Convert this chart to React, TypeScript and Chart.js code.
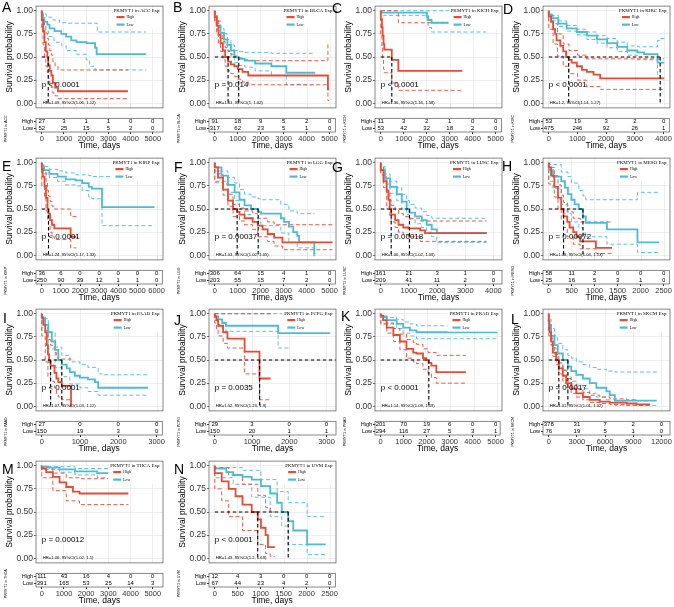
import React, { useEffect, useRef } from "react";
import { Chart, registerables } from "chart.js";
Chart.register(...registerables);

type Pt = [number, number];

const RED = "#E64B35";
const BLUE = "#4DBBD5";
const GRID = "#E6E6E6";
const SANS = "'Liberation Sans', Arial, sans-serif";
const SERIF = "'Liberation Serif', 'Times New Roman', serif";
const Y_TICKS = [0, 0.25, 0.5, 0.75, 1];
const GROUPS = ["High", "Low"];

// ---------------- A: ACC ----------------
const ACC_TICKS = [0, 1000, 2000, 3000, 4000, 5000];
const ACC_HIGH: Pt[] = [[0,1],[60,0.9],[120,0.78],[180,0.66],[250,0.56],[290,0.5],[360,0.41],[430,0.35],[500,0.3],[600,0.22],[730,0.17],[950,0.13],[3880,0.13]];
const ACC_HIGH_UP: Pt[] = [[0,1],[60,0.98],[120,0.92],[180,0.84],[250,0.76],[300,0.7],[360,0.63],[430,0.57],[500,0.52],[600,0.45],[730,0.4],[950,0.36],[3880,0.36]];
const ACC_HIGH_LO: Pt[] = [[0,1],[60,0.8],[120,0.63],[180,0.5],[250,0.4],[300,0.33],[360,0.27],[430,0.21],[500,0.17],[600,0.11],[730,0.08],[950,0.05],[3880,0.05]];
const ACC_LOW: Pt[] = [[0,1],[60,0.96],[120,0.92],[250,0.88],[350,0.85],[575,0.81],[880,0.78],[1100,0.75],[1330,0.72],[1560,0.68],[2015,0.66],[2400,0.65],[2470,0.6],[2545,0.53],[4700,0.53]];
const ACC_LOW_UP: Pt[] = [[0,1],[200,0.97],[500,0.93],[800,0.9],[1100,0.87],[2500,0.865],[2545,0.77],[4700,0.77]];
const ACC_LOW_LO: Pt[] = [[0,1],[100,0.85],[300,0.78],[550,0.72],[900,0.66],[1100,0.62],[1550,0.57],[2000,0.53],[2150,0.47],[2400,0.4],[2545,0.36],[4700,0.36]];
const ACC_RISK_HIGH = [27, 3, 1, 1, 0, 0];
const ACC_RISK_LOW = [52, 25, 15, 5, 2, 0];

// ---------------- B: BLCA ----------------
const BLCA_TICKS = [0, 1000, 2000, 3000, 4000, 5000];
const BLCA_HIGH: Pt[] = [[0,1],[80,0.93],[160,0.84],[250,0.74],[350,0.65],[450,0.57],[576,0.5],[700,0.45],[850,0.42],[1000,0.4],[1200,0.37],[1450,0.34],[1700,0.3],[4900,0.3],[4950,0.15]];
const BLCA_HIGH_UP: Pt[] = [[0,1],[80,0.97],[160,0.91],[250,0.82],[350,0.74],[450,0.67],[576,0.6],[700,0.56],[850,0.53],[1000,0.51],[1200,0.49],[1450,0.47],[1700,0.46],[4900,0.46],[4950,0.64]];
const BLCA_HIGH_LO: Pt[] = [[0,1],[80,0.88],[160,0.76],[250,0.65],[350,0.56],[450,0.47],[576,0.4],[700,0.35],[850,0.32],[1000,0.29],[1200,0.26],[1450,0.23],[1700,0.2],[4900,0.2],[4950,0.03]];
const BLCA_LOW: Pt[] = [[0,1],[100,0.94],[250,0.84],[400,0.76],[550,0.69],[700,0.63],[850,0.57],[1037,0.5],[1300,0.48],[1750,0.46],[2450,0.43],[2500,0.4],[3100,0.4],[3120,0.33],[4350,0.33]];
const BLCA_LOW_UP: Pt[] = [[0,1],[100,0.97],[250,0.89],[400,0.81],[550,0.75],[700,0.69],[850,0.63],[1037,0.57],[1300,0.56],[1750,0.55],[2450,0.55],[3100,0.54],[4350,0.54]];
const BLCA_LOW_LO: Pt[] = [[0,1],[100,0.9],[250,0.79],[400,0.7],[550,0.63],[700,0.57],[850,0.51],[1037,0.44],[1300,0.41],[1750,0.39],[2450,0.35],[2500,0.31],[3100,0.3],[3120,0.2],[4350,0.2]];
const BLCA_RISK_HIGH = [91, 18, 9, 5, 2, 0];
const BLCA_RISK_LOW = [317, 62, 23, 5, 1, 0];

// ---------------- C: KICH ----------------
const KICH_TICKS = [0, 1000, 2000, 3000, 4000, 5000];
const KICH_HIGH: Pt[] = [[0,1],[50,0.91],[80,0.82],[120,0.73],[150,0.64],[200,0.58],[475,0.58],[480,0.47],[760,0.47],[770,0.35],[3530,0.35]];
const KICH_HIGH_UP: Pt[] = [[0,1],[760,1],[770,0.87],[3530,0.87]];
const KICH_HIGH_LO: Pt[] = [[0,1],[50,0.75],[80,0.6],[120,0.47],[150,0.37],[200,0.33],[475,0.33],[480,0.22],[760,0.22],[770,0.14],[3530,0.14]];
const KICH_LOW: Pt[] = [[0,1],[100,0.98],[2000,0.98],[2050,0.94],[2200,0.9],[2340,0.87],[4570,0.87]];
const KICH_LOW_UP: Pt[] = [[0,1],[4570,1]];
const KICH_LOW_LO: Pt[] = [[0,1],[100,0.95],[2000,0.95],[2050,0.88],[2200,0.82],[2340,0.77],[4570,0.77]];
const KICH_RISK_HIGH = [11, 3, 2, 1, 0, 0];
const KICH_RISK_LOW = [53, 42, 32, 18, 2, 0];

// ---------------- D: KIRC ----------------
const KIRC_TICKS = [0, 1000, 2000, 3000, 4000];
const KIRC_HIGH: Pt[] = [[0,1],[80,0.94],[150,0.88],[220,0.8],[270,0.75],[400,0.68],[500,0.62],[600,0.56],[690,0.5],[790,0.47],[970,0.44],[1150,0.4],[1320,0.36],[1550,0.34],[1780,0.31],[1900,0.27],[4000,0.27]];
const KIRC_HIGH_UP: Pt[] = [[0,1],[150,0.95],[300,0.86],[500,0.75],[700,0.64],[1000,0.57],[1300,0.52],[1800,0.48],[4000,0.48]];
const KIRC_HIGH_LO: Pt[] = [[0,1],[150,0.8],[300,0.64],[500,0.51],[700,0.4],[1000,0.32],[1300,0.25],[1800,0.18],[1900,0.15],[4000,0.15]];
const KIRC_LOW: Pt[] = [[0,1],[100,0.96],[330,0.92],[620,0.86],[970,0.81],[1320,0.77],[1670,0.73],[2020,0.69],[2370,0.65],[2720,0.61],[3070,0.57],[3300,0.55],[3770,0.53],[3860,0.44],[4000,0.44]];
const KIRC_LOW_UP: Pt[] = [[0,1],[330,0.95],[620,0.89],[970,0.84],[1320,0.8],[1670,0.77],[2020,0.73],[2370,0.7],[2720,0.66],[3070,0.62],[3770,0.61],[3860,0.68],[4000,0.7]];
const KIRC_LOW_LO: Pt[] = [[0,1],[330,0.89],[620,0.83],[970,0.78],[1320,0.74],[1670,0.69],[2020,0.65],[2370,0.6],[2720,0.56],[3070,0.52],[3770,0.47],[3860,0.3],[4000,0.28]];
const KIRC_RISK_HIGH = [53, 19, 3, 2, 0];
const KIRC_RISK_LOW = [475, 246, 92, 26, 1];

// ---------------- E: KIRP ----------------
const KIRP_TICKS = [0, 1000, 2000, 3000, 4000, 5000, 6000];
const KIRP_HIGH: Pt[] = [[0,1],[50,0.93],[140,0.85],[220,0.75],[300,0.62],[350,0.5],[430,0.45],[530,0.38],[650,0.33],[770,0.29],[1500,0.29],[1520,0.2],[1800,0.2]];
const KIRP_HIGH_UP: Pt[] = [[0,1],[140,0.97],[220,0.9],[300,0.8],[350,0.7],[430,0.64],[530,0.58],[650,0.53],[770,0.5],[1500,0.5],[1520,0.42],[1800,0.42]];
const KIRP_HIGH_LO: Pt[] = [[0,1],[140,0.75],[220,0.62],[300,0.48],[350,0.37],[430,0.32],[530,0.25],[650,0.2],[770,0.17],[1500,0.17],[1520,0.08],[1800,0.08]];
const KIRP_LOW: Pt[] = [[0,1],[100,0.97],[390,0.92],[820,0.88],[1250,0.85],[1760,0.82],[2100,0.81],[2440,0.78],[2600,0.74],[3130,0.72],[3210,0.52],[5860,0.52]];
const KIRP_LOW_UP: Pt[] = [[0,1],[390,0.96],[820,0.93],[1250,0.91],[1760,0.89],[2440,0.87],[2600,0.86],[5860,0.85]];
const KIRP_LOW_LO: Pt[] = [[0,1],[390,0.88],[820,0.84],[1250,0.8],[1760,0.76],[2100,0.75],[2440,0.7],[2600,0.63],[3130,0.61],[3210,0.32],[5860,0.32]];
const KIRP_RISK_HIGH = [36, 6, 0, 0, 0, 0, 0];
const KIRP_RISK_LOW = [250, 90, 39, 12, 1, 1, 0];

// ---------------- F: LGG ----------------
const LGG_TICKS = [0, 1000, 2000, 3000, 4000, 5000];
const LGG_HIGH: Pt[] = [[0,1],[140,0.95],[360,0.84],[570,0.71],[790,0.59],[970,0.5],[1070,0.47],[1290,0.44],[1640,0.4],[1860,0.36],[2070,0.32],[2290,0.28],[2570,0.23],[2930,0.19],[3000,0.14],[5100,0.14]];
const LGG_HIGH_UP: Pt[] = [[0,1],[360,0.88],[570,0.77],[790,0.66],[1070,0.55],[1290,0.51],[1640,0.48],[1860,0.45],[2290,0.4],[2570,0.36],[2930,0.33],[5100,0.33]];
const LGG_HIGH_LO: Pt[] = [[0,1],[360,0.79],[570,0.65],[790,0.53],[1070,0.42],[1290,0.37],[1640,0.33],[1860,0.28],[2290,0.2],[2570,0.15],[2930,0.1],[3000,0.06],[5100,0.06]];
const LGG_LOW: Pt[] = [[0,1],[290,0.95],[570,0.86],[860,0.76],[1070,0.68],[1290,0.6],[1570,0.54],[1880,0.5],[2000,0.47],[2860,0.45],[3000,0.4],[3210,0.36],[3400,0.31],[3570,0.25],[3650,0.21],[4000,0.14],[4310,0.14],[4320,0]];
const LGG_LOW_UP: Pt[] = [[0,1],[570,0.91],[860,0.84],[1070,0.78],[1290,0.71],[1570,0.66],[1880,0.63],[2000,0.61],[2860,0.6],[3210,0.55],[3570,0.48],[4000,0.45],[4310,0.45]];
const LGG_LOW_LO: Pt[] = [[0,1],[570,0.8],[860,0.68],[1070,0.59],[1290,0.5],[1570,0.44],[1880,0.4],[2000,0.36],[2860,0.32],[3210,0.24],[3570,0.14],[4000,0.08],[4310,0.08],[4320,0]];
const LGG_RISK_HIGH = [306, 64, 15, 4, 1, 0];
const LGG_RISK_LOW = [203, 55, 15, 7, 2, 0];

// ---------------- G: LUSC ----------------
const LUSC_TICKS = [0, 1000, 2000, 3000, 4000];
const LUSC_HIGH: Pt[] = [[0,1],[95,0.92],[210,0.8],[270,0.7],[320,0.6],[370,0.5],[510,0.44],[630,0.38],[800,0.33],[980,0.3],[1400,0.29],[1570,0.27],[1750,0.24],[3760,0.24]];
const LUSC_HIGH_UP: Pt[] = [[0,1],[95,0.96],[210,0.86],[320,0.68],[370,0.6],[510,0.54],[630,0.49],[800,0.45],[980,0.42],[1400,0.4],[1750,0.37],[3760,0.37]];
const LUSC_HIGH_LO: Pt[] = [[0,1],[95,0.87],[210,0.73],[320,0.52],[370,0.43],[510,0.36],[630,0.3],[800,0.25],[980,0.22],[1400,0.2],[1750,0.15],[3760,0.15]];
const LUSC_LOW: Pt[] = [[0,1],[150,0.92],[330,0.83],[570,0.74],[745,0.66],[920,0.58],[1020,0.5],[1220,0.46],[1455,0.42],[1630,0.38],[1810,0.33],[1990,0.28],[2170,0.24],[3760,0.24]];
const LUSC_LOW_UP: Pt[] = [[0,1],[150,0.96],[330,0.88],[570,0.8],[745,0.73],[920,0.66],[1020,0.59],[1220,0.55],[1455,0.51],[1630,0.47],[1810,0.43],[1990,0.4],[3760,0.4]];
const LUSC_LOW_LO: Pt[] = [[0,1],[150,0.88],[330,0.77],[570,0.67],[745,0.59],[920,0.5],[1020,0.44],[1220,0.39],[1455,0.34],[1630,0.3],[1810,0.25],[1990,0.2],[2170,0.14],[3760,0.14]];
const LUSC_RISK_HIGH = [161, 21, 3, 1, 0];
const LUSC_RISK_LOW = [209, 41, 11, 2, 0];

// ---------------- H: MESO ----------------
const MESO_TICKS = [0, 500, 1000, 1500, 2000, 2500];
const MESO_HIGH: Pt[] = [[0,1],[50,0.95],[120,0.86],[200,0.74],[270,0.62],[320,0.5],[400,0.42],[450,0.36],[530,0.3],[600,0.25],[680,0.2],[745,0.15],[1020,0.15],[1030,0.08],[1370,0.08]];
const MESO_HIGH_UP: Pt[] = [[0,1],[120,0.95],[200,0.86],[270,0.76],[320,0.65],[400,0.57],[530,0.47],[680,0.4],[745,0.36],[1370,0.36]];
const MESO_HIGH_LO: Pt[] = [[0,1],[120,0.77],[200,0.63],[270,0.5],[320,0.38],[400,0.3],[530,0.2],[680,0.12],[745,0.07],[1020,0.07],[1030,0.02],[1370,0.02]];
const MESO_LOW: Pt[] = [[0,1],[90,0.92],[270,0.85],[350,0.8],[415,0.73],[490,0.66],[560,0.6],[650,0.55],[740,0.5],[800,0.42],[855,0.35],[1260,0.35],[1270,0.28],[1920,0.28],[1930,0.14],[2390,0.14]];
const MESO_LOW_UP: Pt[] = [[0,1],[270,0.98],[415,0.9],[490,0.85],[650,0.78],[740,0.7],[800,0.64],[855,0.6],[1920,0.6],[1930,0.68],[2390,0.68]];
const MESO_LOW_LO: Pt[] = [[0,1],[90,0.8],[270,0.72],[415,0.55],[490,0.45],[650,0.36],[740,0.3],[800,0.24],[855,0.2],[1260,0.2],[1270,0.12],[1920,0.12],[1930,0.03],[2390,0.03]];
const MESO_RISK_HIGH = [58, 11, 2, 0, 0, 0];
const MESO_RISK_LOW = [25, 16, 5, 3, 1, 0];

// ---------------- I: PAAD ----------------
const PAAD_TICKS = [0, 1000, 2000, 3000];
const PAAD_HIGH: Pt[] = [[0,1],[40,0.96],[90,0.88],[130,0.8],[160,0.66],[190,0.56],[230,0.48],[330,0.44],[380,0.36],[430,0.3],[520,0.26],[600,0.22],[760,0.22],[770,0]];
const PAAD_HIGH_UP: Pt[] = [[0,1],[90,0.97],[160,0.85],[230,0.72],[330,0.66],[380,0.58],[430,0.53],[520,0.51],[770,0.51]];
const PAAD_HIGH_LO: Pt[] = [[0,1],[90,0.76],[160,0.48],[230,0.32],[330,0.27],[380,0.2],[430,0.14],[520,0.1],[600,0.07],[770,0.07]];
const PAAD_LOW: Pt[] = [[0,1],[86,0.95],[170,0.88],[260,0.8],[350,0.7],[430,0.61],[520,0.5],[650,0.45],[730,0.41],[860,0.37],[990,0.33],[1200,0.31],[1380,0.29],[1465,0.26],[1620,0.2],[2760,0.2]];
const PAAD_LOW_UP: Pt[] = [[0,1],[170,0.95],[350,0.8],[520,0.64],[730,0.55],[990,0.48],[1200,0.45],[1465,0.42],[1620,0.35],[2760,0.34]];
const PAAD_LOW_LO: Pt[] = [[0,1],[170,0.82],[350,0.62],[520,0.42],[730,0.32],[990,0.24],[1200,0.2],[1465,0.16],[1620,0.12],[2760,0.12]];
const PAAD_RISK_HIGH = [27, 0, 0, 0];
const PAAD_RISK_LOW = [150, 19, 3, 0];

// ---------------- J: PCPG ----------------
const PCPG_TICKS = [0, 1000, 2000, 3000];
const PCPG_HIGH: Pt[] = [[0,1],[45,0.97],[90,0.93],[225,0.87],[340,0.8],[360,0.73],[800,0.73],[810,0.59],[1200,0.59],[1210,0.3],[1500,0.3]];
const PCPG_HIGH_UP: Pt[] = [[0,1],[1500,1]];
const PCPG_HIGH_LO: Pt[] = [[0,1],[45,0.9],[90,0.83],[225,0.76],[340,0.68],[360,0.63],[800,0.63],[810,0.35],[1200,0.35],[1210,0.07],[1500,0.07]];
const PCPG_LOW: Pt[] = [[0,1],[90,0.97],[200,0.94],[300,0.9],[400,0.87],[1700,0.87],[1710,0.79],[3100,0.79]];
const PCPG_LOW_UP: Pt[] = [[0,1],[3100,1]];
const PCPG_LOW_LO: Pt[] = [[0,1],[90,0.93],[200,0.88],[300,0.84],[400,0.81],[1700,0.81],[1710,0.63],[2000,0.63]];
const PCPG_RISK_HIGH = [29, 3, 0, 0];
const PCPG_RISK_LOW = [150, 20, 1, 1];

// ---------------- K: PRAD ----------------
const PRAD_TICKS = [0, 1000, 2000, 3000, 4000, 5000];
const PRAD_HIGH: Pt[] = [[0,1],[100,0.98],[255,0.93],[540,0.85],[820,0.77],[1100,0.7],[1390,0.62],[1530,0.58],[1810,0.57],[1950,0.52],[2060,0.5],[2170,0.47],[2380,0.44],[2520,0.37],[3650,0.37]];
const PRAD_HIGH_UP: Pt[] = [[0,1],[255,0.96],[540,0.9],[820,0.84],[1100,0.78],[1390,0.72],[1530,0.69],[1810,0.67],[2030,0.62],[2380,0.58],[2520,0.55],[3650,0.55]];
const PRAD_HIGH_LO: Pt[] = [[0,1],[255,0.89],[540,0.79],[820,0.7],[1100,0.61],[1390,0.52],[1530,0.48],[1810,0.46],[2030,0.4],[2170,0.36],[2380,0.31],[2520,0.25],[3650,0.25]];
const PRAD_LOW: Pt[] = [[0,1],[255,0.97],[680,0.93],[960,0.89],[1250,0.85],[1530,0.82],[1670,0.8],[5000,0.8]];
const PRAD_LOW_UP: Pt[] = [[0,1],[680,0.96],[960,0.94],[1250,0.91],[1530,0.89],[1670,0.87],[5000,0.87]];
const PRAD_LOW_LO: Pt[] = [[0,1],[680,0.89],[960,0.84],[1250,0.79],[1530,0.76],[1670,0.73],[5000,0.73]];
const PRAD_RISK_HIGH = [201, 70, 19, 6, 0, 0];
const PRAD_RISK_LOW = [294, 116, 27, 5, 3, 1];

// ---------------- L: SKCM ----------------
const SKCM_TICKS = [0, 3000, 6000, 9000, 12000];
const SKCM_HIGH: Pt[] = [[0,1],[70,0.92],[250,0.8],[430,0.7],[790,0.58],[1070,0.5],[1500,0.41],[1860,0.33],[2390,0.25],[2930,0.19],[3640,0.14],[4360,0.1],[5430,0.07],[6500,0.05],[8290,0.04],[9360,0.03],[10800,0.02]];
const SKCM_HIGH_UP: Pt[] = [[0,1],[250,0.84],[430,0.74],[790,0.63],[1070,0.56],[1500,0.47],[1860,0.39],[2390,0.3],[2930,0.24],[3640,0.19],[4360,0.15],[5430,0.12],[6500,0.1],[8290,0.08],[9360,0.07],[10800,0.06]];
const SKCM_HIGH_LO: Pt[] = [[0,1],[250,0.76],[430,0.66],[790,0.54],[1070,0.45],[1500,0.35],[1860,0.27],[2390,0.2],[2930,0.14],[3640,0.1],[4360,0.07],[5430,0.04],[6500,0.03],[8290,0.02],[9360,0.01],[10800,0.01]];
const SKCM_LOW: Pt[] = [[0,1],[250,0.88],[610,0.76],[960,0.66],[1500,0.57],[2036,0.5],[2390,0.43],[2930,0.38],[3640,0.34],[4360,0.3],[5070,0.25],[6140,0.2],[6500,0.16],[7040,0.12],[7750,0.06],[11500,0.06]];
const SKCM_LOW_UP: Pt[] = [[0,1],[250,0.94],[610,0.84],[960,0.76],[1500,0.68],[2036,0.61],[2390,0.55],[2930,0.52],[3640,0.48],[4360,0.45],[5070,0.42],[6140,0.4],[7040,0.38],[7750,0.37],[11500,0.37]];
const SKCM_LOW_LO: Pt[] = [[0,1],[250,0.8],[610,0.66],[960,0.56],[1500,0.46],[2036,0.39],[2390,0.32],[2930,0.27],[3640,0.23],[4360,0.19],[5070,0.14],[6140,0.1],[6500,0.07],[7040,0.04],[7750,0.01],[11500,0.01]];
const SKCM_RISK_HIGH = [378, 31, 7, 2, 0];
const SKCM_RISK_LOW = [76, 19, 5, 1, 0];

// ---------------- M: THCA ----------------
const THCA_TICKS = [0, 1000, 2000, 3000, 4000, 5000];
const THCA_HIGH: Pt[] = [[0,1],[200,0.97],[500,0.93],[800,0.88],[1100,0.82],[1400,0.77],[1700,0.72],[2000,0.7],[3900,0.7]];
const THCA_HIGH_UP: Pt[] = [[0,1],[500,0.98],[1100,0.92],[1700,0.87],[2000,0.86],[3900,0.86]];
const THCA_HIGH_LO: Pt[] = [[0,1],[500,0.87],[1100,0.73],[1700,0.62],[2000,0.58],[3900,0.58]];
const THCA_LOW: Pt[] = [[0,1],[300,0.99],[800,0.98],[1500,0.96],[2500,0.94],[3500,0.92],[4500,0.9],[5000,0.9]];
const THCA_LOW_UP: Pt[] = [[0,1],[1500,0.99],[3500,0.97],[5000,0.96]];
const THCA_LOW_LO: Pt[] = [[0,1],[800,0.96],[1500,0.93],[2500,0.9],[3500,0.87],[5000,0.84]];
const THCA_RISK_HIGH = [111, 43, 16, 4, 0, 0];
const THCA_RISK_LOW = [391, 165, 53, 25, 14, 3];

// ---------------- N: UVM ----------------
const UVM_TICKS = [0, 500, 1000, 1500, 2000, 2500];
const UVM_HIGH: Pt[] = [[0,1],[150,0.92],[300,0.83],[450,0.75],[600,0.67],[800,0.58],[930,0.5],[1000,0.42],[1100,0.33],[1150,0.25],[1200,0.12],[1300,0.12]];
const UVM_HIGH_UP: Pt[] = [[0,1],[300,0.98],[600,0.9],[930,0.8],[1100,0.68],[1200,0.55],[1300,0.5]];
const UVM_HIGH_LO: Pt[] = [[0,1],[150,0.75],[300,0.62],[600,0.45],[930,0.3],[1100,0.15],[1200,0.05],[1300,0.02]];
const UVM_LOW: Pt[] = [[0,1],[250,0.97],[400,0.93],[600,0.9],[800,0.88],[1000,0.85],[1200,0.78],[1350,0.7],[1450,0.6],[1590,0.5],[1700,0.4],[2000,0.3],[2200,0.15],[2400,0.15]];
const UVM_LOW_UP: Pt[] = [[0,1],[600,0.98],[1000,0.95],[1350,0.85],[1590,0.72],[2000,0.6],[2200,0.45],[2400,0.45]];
const UVM_LOW_LO: Pt[] = [[0,1],[400,0.87],[800,0.8],[1200,0.66],[1450,0.45],[1590,0.35],[2000,0.15],[2200,0.04],[2400,0.04]];
const UVM_RISK_HIGH = [12, 4, 3, 0, 0, 0];
const UVM_RISK_LOW = [67, 44, 23, 4, 2, 0];

// ---------------- layout ----------------
const COL_LEFT = [36, 209, 375, 543];
const ROW_TOP = [0, 152, 303, 455];
const PLOT_W = 127;
const Y_AREA = 34;
const KM_H = 114;
const TB_H = 38;
const CW = Y_AREA + PLOT_W + 2;

interface PanelSpec {
  letter: string; code: string; col: number; row: number; lx: number; ly: number;
  xMax: number; ticks: number[];
  high: Pt[]; highUp: Pt[]; highLo: Pt[]; low: Pt[]; lowUp: Pt[]; lowLo: Pt[];
  riskHigh: number[]; riskLow: number[];
  medians: number[]; hEnd?: number; pText: string; hrText: string;
}

const PANELS: PanelSpec[] = [
  { letter: "A", code: "ACC", col: 0, row: 0, lx: 2, ly: 0, xMax: 5200, ticks: ACC_TICKS, high: ACC_HIGH, highUp: ACC_HIGH_UP, highLo: ACC_HIGH_LO, low: ACC_LOW, lowUp: ACC_LOW_UP, lowLo: ACC_LOW_LO, riskHigh: ACC_RISK_HIGH, riskLow: ACC_RISK_LOW, medians: [290], pText: "p < 0.0001", hrText: "HR=1.09, 95%CI(1.06, 1.12)" },
  { letter: "B", code: "BLCA", col: 1, row: 0, lx: 173, ly: 0, xMax: 5000, ticks: BLCA_TICKS, high: BLCA_HIGH, highUp: BLCA_HIGH_UP, highLo: BLCA_HIGH_LO, low: BLCA_LOW, lowUp: BLCA_LOW_UP, lowLo: BLCA_LOW_LO, riskHigh: BLCA_RISK_HIGH, riskLow: BLCA_RISK_LOW, medians: [576, 1037], pText: "p = 0.014", hrText: "HR=1.01, 95%CI(1, 1.02)" },
  { letter: "C", code: "KICH", col: 2, row: 0, lx: 332, ly: 1, xMax: 5000, ticks: KICH_TICKS, high: KICH_HIGH, highUp: KICH_HIGH_UP, highLo: KICH_HIGH_LO, low: KICH_LOW, lowUp: KICH_LOW_UP, lowLo: KICH_LOW_LO, riskHigh: KICH_RISK_HIGH, riskLow: KICH_RISK_LOW, medians: [478], pText: "p < 0.0001", hrText: "HR=1.36, 95%CI(1.16, 1.58)" },
  { letter: "D", code: "KIRC", col: 3, row: 0, lx: 503, ly: 2, xMax: 4000, ticks: KIRC_TICKS, high: KIRC_HIGH, highUp: KIRC_HIGH_UP, highLo: KIRC_HIGH_LO, low: KIRC_LOW, lowUp: KIRC_LOW_UP, lowLo: KIRC_LOW_LO, riskHigh: KIRC_RISK_HIGH, riskLow: KIRC_RISK_LOW, medians: [690, 3860], pText: "p < 0.0001", hrText: "HR=1.2, 95%CI(1.14, 1.27)" },
  { letter: "E", code: "KIRP", col: 0, row: 1, lx: 2, ly: 159, xMax: 6000, ticks: KIRP_TICKS, high: KIRP_HIGH, highUp: KIRP_HIGH_UP, highLo: KIRP_HIGH_LO, low: KIRP_LOW, lowUp: KIRP_LOW_UP, lowLo: KIRP_LOW_LO, riskHigh: KIRP_RISK_HIGH, riskLow: KIRP_RISK_LOW, medians: [350], pText: "p < 0.0001", hrText: "HR=1.24, 95%CI(1.17, 1.33)" },
  { letter: "F", code: "LGG", col: 1, row: 1, lx: 174, ly: 160, xMax: 5000, ticks: LGG_TICKS, high: LGG_HIGH, highUp: LGG_HIGH_UP, highLo: LGG_HIGH_LO, low: LGG_LOW, lowUp: LGG_LOW_UP, lowLo: LGG_LOW_LO, riskHigh: LGG_RISK_HIGH, riskLow: LGG_RISK_LOW, medians: [970, 1880], pText: "p = 0.00037", hrText: "HR=1.03, 95%CI(1.02, 1.05)" },
  { letter: "G", code: "LUSC", col: 2, row: 1, lx: 332, ly: 160, xMax: 4100, ticks: LUSC_TICKS, high: LUSC_HIGH, highUp: LUSC_HIGH_UP, highLo: LUSC_HIGH_LO, low: LUSC_LOW, lowUp: LUSC_LOW_UP, lowLo: LUSC_LOW_LO, riskHigh: LUSC_RISK_HIGH, riskLow: LUSC_RISK_LOW, medians: [370, 1020], pText: "p = 0.00018", hrText: "HR=1.06, 95%CI(1.02, 1.09)" },
  { letter: "H", code: "MESO", col: 3, row: 1, lx: 502, ly: 159, xMax: 2500, ticks: MESO_TICKS, high: MESO_HIGH, highUp: MESO_HIGH_UP, highLo: MESO_HIGH_LO, low: MESO_LOW, lowUp: MESO_LOW_UP, lowLo: MESO_LOW_LO, riskHigh: MESO_RISK_HIGH, riskLow: MESO_RISK_LOW, medians: [320, 740], pText: "p = 0.00072", hrText: "HR=1.08, 95%CI(1.04, 1.13)" },
  { letter: "I", code: "PAAD", col: 0, row: 2, lx: 3, ly: 311, xMax: 3000, ticks: PAAD_TICKS, high: PAAD_HIGH, highUp: PAAD_HIGH_UP, highLo: PAAD_HIGH_LO, low: PAAD_LOW, lowUp: PAAD_LOW_UP, lowLo: PAAD_LOW_LO, riskHigh: PAAD_RISK_HIGH, riskLow: PAAD_RISK_LOW, medians: [230, 520], pText: "p < 0.0001", hrText: "HR=1.07, 95%CI(1.03, 1.12)" },
  { letter: "J", code: "PCPG", col: 1, row: 2, lx: 174, ly: 313, xMax: 3100, ticks: PCPG_TICKS, high: PCPG_HIGH, highUp: PCPG_HIGH_UP, highLo: PCPG_HIGH_LO, low: PCPG_LOW, lowUp: PCPG_LOW_UP, lowLo: PCPG_LOW_LO, riskHigh: PCPG_RISK_HIGH, riskLow: PCPG_RISK_LOW, medians: [1205], hEnd: 3300, pText: "p = 0.0035", hrText: "HR=1.52, 95%CI(1.23, 1.9)" },
  { letter: "K", code: "PRAD", col: 2, row: 2, lx: 341, ly: 309, xMax: 4950, ticks: PRAD_TICKS, high: PRAD_HIGH, highUp: PRAD_HIGH_UP, highLo: PRAD_HIGH_LO, low: PRAD_LOW, lowUp: PRAD_LOW_UP, lowLo: PRAD_LOW_LO, riskHigh: PRAD_RISK_HIGH, riskLow: PRAD_RISK_LOW, medians: [2060], pText: "p < 0.0001", hrText: "HR=1.14, 95%CI(1.09, 1.19)" },
  { letter: "L", code: "SKCM", col: 3, row: 2, lx: 511, ly: 312, xMax: 12300, ticks: SKCM_TICKS, high: SKCM_HIGH, highUp: SKCM_HIGH_UP, highLo: SKCM_HIGH_LO, low: SKCM_LOW, lowUp: SKCM_LOW_UP, lowLo: SKCM_LOW_LO, riskHigh: SKCM_RISK_HIGH, riskLow: SKCM_RISK_LOW, medians: [1070, 2036], pText: "p = 0.0017", hrText: "HR=1.01, 95%CI(1.01, 1.02)" },
  { letter: "M", code: "THCA", col: 0, row: 3, lx: 2, ly: 462, xMax: 5200, ticks: THCA_TICKS, high: THCA_HIGH, highUp: THCA_HIGH_UP, highLo: THCA_HIGH_LO, low: THCA_LOW, lowUp: THCA_LOW_UP, lowLo: THCA_LOW_LO, riskHigh: THCA_RISK_HIGH, riskLow: THCA_RISK_LOW, medians: [], pText: "p = 0.00012", hrText: "HR=1.06, 95%CI(1.02, 1.1)" },
  { letter: "N", code: "UVM", col: 1, row: 3, lx: 174, ly: 462, xMax: 2500, ticks: UVM_TICKS, high: UVM_HIGH, highUp: UVM_HIGH_UP, highLo: UVM_HIGH_LO, low: UVM_LOW, lowUp: UVM_LOW_UP, lowLo: UVM_LOW_LO, riskHigh: UVM_RISK_HIGH, riskLow: UVM_RISK_LOW, medians: [930, 1590], pText: "p < 0.0001", hrText: "HR=1.43, 95%CI(1.2, 1.69)" },
];

const toXY = (a: Pt[]) => a.map(([x, y]) => ({ x, y }));

function stepLine(data: Pt[], color: string, width: number, dash: number[] = []) {
  return { data: toXY(data), borderColor: color, borderWidth: width, borderDash: dash, stepped: "after", pointRadius: 0, fill: false };
}

function kmConfig(p: PanelSpec): any {
  const xmin = -0.05 * p.xMax;
  const xmax = 1.05 * p.xMax;
  const datasets: any[] = [];
  const dash = [3.5, 2.5];
  if (p.medians.length) {
    const hEnd = p.hEnd ?? Math.max(...p.medians);
    datasets.push({ data: toXY([[0, 0.5], [hEnd, 0.5]]), borderColor: "#000", borderWidth: 1.1, borderDash: dash, pointRadius: 0 });
    p.medians.forEach((m) =>
      datasets.push({ data: toXY([[m, 0.5], [m, 0]]), borderColor: "#000", borderWidth: 1.1, borderDash: dash, pointRadius: 0 })
    );
  }
  datasets.push(stepLine(p.high, RED, 1.8));
  datasets.push(stepLine(p.low, BLUE, 1.8));
  datasets.push(stepLine(p.highUp, RED, 0.9, [4, 2.5]));
  datasets.push(stepLine(p.highLo, RED, 0.9, [4, 2.5]));
  datasets.push(stepLine(p.lowUp, BLUE, 0.9, [4, 2.5]));
  datasets.push(stepLine(p.lowLo, BLUE, 0.9, [4, 2.5]));

  const decor = {
    id: "kmDecor",
    afterDatasetsDraw(chart: any) {
      const { ctx, chartArea: a, scales } = chart;
      const x = scales.x, y = scales.y;
      ctx.save();
      ctx.fillStyle = "#000";
      ctx.textAlign = "left";
      ctx.textBaseline = "middle";
      ctx.font = `8px ${SANS}`;
      ctx.fillText(p.pText, x.getPixelForValue(0), y.getPixelForValue(0.2));
      ctx.font = `4.2px ${SANS}`;
      ctx.fillText(p.hrText, x.getPixelForValue(0) + 1, y.getPixelForValue(0.01));
      // legend
      const title = `PKMYT1 in ${p.code} Exp`;
      ctx.font = `5px ${SERIF}`;
      const tw = ctx.measureText(title).width;
      const bw = tw + 4;
      const bh = 21;
      const bx = a.right - 1.5 - bw;
      const by = a.top + 1.5;
      ctx.fillStyle = "#fff";
      ctx.fillRect(bx, by, bw, bh);
      ctx.fillStyle = "#000";
      ctx.fillText(title, bx + 2, by + 3.5);
      const entries: [string, string, number][] = [[RED, GROUPS[0], 9.5], [BLUE, GROUPS[1], 17]];
      entries.forEach(([c, l, dy]) => {
        ctx.strokeStyle = c;
        ctx.lineWidth = 2.2;
        ctx.setLineDash([]);
        ctx.beginPath();
        ctx.moveTo(bx + 5, by + dy);
        ctx.lineTo(bx + 13, by + dy);
        ctx.stroke();
        ctx.font = `3.8px ${SERIF}`;
        ctx.fillStyle = "#000";
        ctx.fillText(l, bx + 15, by + dy);
      });
      ctx.strokeStyle = "#555";
      ctx.lineWidth = 0.7;
      ctx.strokeRect(a.left, a.top, a.right - a.left, a.bottom - a.top);
      ctx.restore();
    },
  };

  return {
    type: "line",
    data: { datasets },
    plugins: [decor],
    options: {
      responsive: false,
      animation: false,
      events: [],
      layout: { padding: { top: 5, right: 2, left: 0, bottom: 0 } },
      plugins: { legend: { display: false }, tooltip: { enabled: false } },
      scales: {
        x: {
          type: "linear", min: xmin, max: xmax,
          afterBuildTicks: (s: any) => { s.ticks = p.ticks.map((v) => ({ value: v })); },
          ticks: { display: false },
          grid: { color: GRID, lineWidth: 0.7, drawTicks: false },
          border: { display: false },
          afterFit: (s: any) => { s.height = 0; },
        },
        y: {
          type: "linear", min: -0.05, max: 1.05,
          afterBuildTicks: (s: any) => { s.ticks = Y_TICKS.map((v) => ({ value: v })); },
          ticks: { callback: (v: any) => Number(v).toFixed(2), font: { family: SANS, size: 8.5 }, color: "#333", padding: 1 },
          grid: { color: GRID, lineWidth: 0.7, tickColor: "#333", tickLength: 2 },
          border: { display: false },
          title: { display: true, text: "Survival probability", font: { family: SANS, size: 8.5 }, color: "#000", padding: { top: 3, bottom: 0 } },
          afterFit: (s: any) => { s.width = Y_AREA; },
        },
      },
    },
  };
}

function tableConfig(p: PanelSpec): any {
  const xmin = -0.05 * p.xMax;
  const xmax = 1.05 * p.xMax;
  const decor = {
    id: "tbDecor",
    afterDraw(chart: any) {
      const { ctx, chartArea: a, scales } = chart;
      const x = scales.x, y = scales.y;
      ctx.save();
      ctx.fillStyle = "#000";
      ctx.textAlign = "center";
      ctx.textBaseline = "middle";
      ctx.font = `6px ${SANS}`;
      const rows = [p.riskHigh, p.riskLow];
      rows.forEach((r, ri) => {
        const py = y.getPixelForValue(ri);
        r.forEach((n, i) => ctx.fillText(String(n), x.getPixelForValue(p.ticks[i]), py));
      });
      ctx.strokeStyle = "#555";
      ctx.lineWidth = 0.7;
      ctx.strokeRect(a.left, a.top, a.right - a.left, a.bottom - a.top);
      ctx.restore();
    },
  };
  return {
    type: "scatter",
    data: { labels: GROUPS, datasets: [{ data: [] }] },
    plugins: [decor],
    options: {
      responsive: false,
      animation: false,
      events: [],
      layout: { padding: { top: 0.5, right: 2, left: 0, bottom: 0 } },
      plugins: { legend: { display: false }, tooltip: { enabled: false } },
      scales: {
        x: {
          type: "linear", min: xmin, max: xmax,
          afterBuildTicks: (s: any) => { s.ticks = p.ticks.map((v) => ({ value: v })); },
          ticks: { font: { family: SANS, size: 7.5 }, color: "#333", padding: 0, maxRotation: 0, autoSkip: false, callback: (v: any) => String(v) },
          grid: { drawOnChartArea: false, tickColor: "#333", tickLength: 2 },
          border: { display: false },
          title: { display: true, text: "Time, days", font: { family: SANS, size: 8.5 }, color: "#000", padding: { top: 0, bottom: 1 } },
          afterFit: (s: any) => { s.height = 20; },
        },
        y: {
          type: "category", labels: GROUPS, offset: true,
          ticks: { font: { family: SANS, size: 5.5 }, color: "#000", padding: 1, autoSkip: false },
          grid: { drawOnChartArea: false, tickColor: "#333", tickLength: 2 },
          border: { display: false },
          title: { display: true, text: `PKMYT1 in ${p.code} Exp`, font: { family: SANS, size: 3.6 }, color: "#000", padding: { top: 2, bottom: 0 } },
          afterFit: (s: any) => { s.width = Y_AREA; },
        },
      },
    },
  };
}

function Panel({ spec }: { spec: PanelSpec }) {
  const kmRef = useRef<HTMLCanvasElement>(null);
  const tbRef = useRef<HTMLCanvasElement>(null);
  useEffect(() => {
    const km = new Chart(kmRef.current as HTMLCanvasElement, kmConfig(spec));
    const tb = new Chart(tbRef.current as HTMLCanvasElement, tableConfig(spec));
    return () => { km.destroy(); tb.destroy(); };
  }, [spec]);
  const left = COL_LEFT[spec.col] - Y_AREA;
  const top = ROW_TOP[spec.row];
  return (
    <>
      <canvas ref={kmRef} width={CW} height={KM_H} style={{ position: "absolute", left, top, width: CW, height: KM_H }} />
      <canvas ref={tbRef} width={CW} height={TB_H} style={{ position: "absolute", left, top: top + KM_H, width: CW, height: TB_H }} />
    </>
  );
}

export default function App() {
  return (
    <div style={{ position: "fixed", left: 0, top: 0, width: 674, height: 607, background: "#fff", overflow: "hidden" }}>
      {PANELS.map((p) => <Panel key={p.letter} spec={p} />)}
      {PANELS.map((p) => (
        <div key={"L" + p.letter} style={{ position: "absolute", left: p.lx, top: p.ly, fontFamily: SANS, fontSize: 14, lineHeight: "14px", color: "#000" }}>{p.letter}</div>
      ))}
    </div>
  );
}
